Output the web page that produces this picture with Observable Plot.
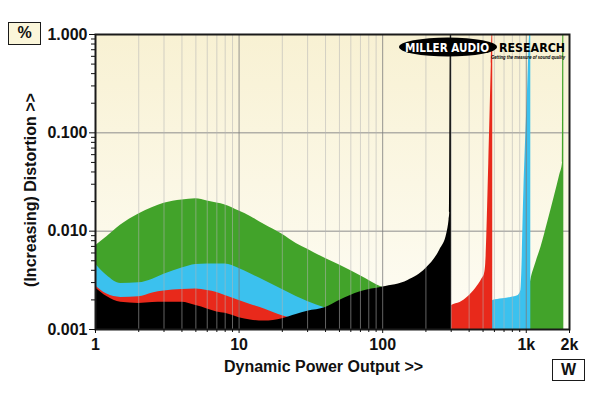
<!DOCTYPE html>
<html><head><meta charset="utf-8">
<script src="https://cdn.jsdelivr.net/npm/d3@7"></script>
<script src="https://cdn.jsdelivr.net/npm/@observablehq/plot@0.6"></script>
<style>
body{margin:0;background:#fff;}
#wrap{position:relative;width:600px;height:393px;overflow:hidden;font-family:"Liberation Sans",Arial,sans-serif;}
.box{position:absolute;border:1.5px solid #1a1a1a;font-weight:bold;font-size:16px;text-align:center;box-sizing:border-box;color:#111;}
#logo{position:absolute;left:0;top:0;pointer-events:none;}
</style></head><body>
<div id="wrap"></div>
<script>
// Axis settings / tick labels
const xDomain = [1, 2000];
const yDomain = [0.001, 1];
const xMajor = [1, 10, 100, 1000, 2000];
const xMajorLabels = ["1", "10", "100", "1k", "2k"];
const yMajor = [0.001, 0.01, 0.1, 1];
const yMajorLabels = ["0.001", "0.010", "0.100", "1.000"];
const xDecadeLines = [10, 100, 1000];
const yGridLines = [0.01, 0.1];

// Series (watts, % distortion)
const greenW   = [1,1.2,1.5,2,2.5,3,4,5,6,7,8,10,12,15,20,25,30,40,50,70,100,150,300,1000,1075,1168,1266,1413,1563,1710,1790,1796,1826];
const greenPct = [0.0071,0.0088,0.01155,0.01495,0.0174,0.0192,0.0208,0.0214,0.0203,0.0193,0.0185,0.016,0.0141,0.0117,0.0093,0.0075,0.00655,0.00526,0.00453,0.00352,0.00268,0.0024,0.0016,0.0016,0.00315,0.00481,0.00688,0.0125,0.022,0.0372,0.05,1.0,1.0];

const cyanW   = [1,1.2,1.5,2,2.5,3,4,5,6,7,8,10,12,15,20,25,30,40,50,570,584,684,781,879,918,961,1019,1060,1075];
const cyanPct = [0.00463,0.00354,0.00294,0.00298,0.00325,0.00364,0.00421,0.00458,0.00464,0.00464,0.00464,0.00417,0.00368,0.00315,0.00255,0.00217,0.00193,0.00165,0.0015,0.0015,0.00197,0.00205,0.00212,0.00222,0.0025,0.0242,0.251,1.0,1.0];

const redW   = [1,1.2,1.5,2,2.5,3,4,5,6,7,8,10,12,15,20,23,25,30,100,290,302,346,395,444,493,512,522,548,571,578,584];
const redPct = [0.00278,0.00229,0.00212,0.00215,0.00235,0.00246,0.00255,0.00258,0.00249,0.00238,0.00222,0.00197,0.0018,0.00162,0.00138,0.0013,0.00125,0.0012,0.0012,0.0012,0.00175,0.00188,0.00217,0.00261,0.0033,0.0037,0.0047,0.0488,0.5,1.0,1.0];

const blackW   = [1,1.2,1.5,2,2.5,3,4,5,6,7,8,10,12,15,20,25,30,40,50,70,100,150,200,250,280,290,293,296,302];
const blackPct = [0.00265,0.00217,0.00189,0.00184,0.00188,0.00189,0.00189,0.00175,0.00162,0.00151,0.00146,0.00132,0.00125,0.00122,0.00129,0.00142,0.00153,0.00167,0.00197,0.00242,0.0027,0.00315,0.00417,0.00643,0.0095,0.0131,0.0154,1.0,1.0];

const colors = {green: "#42a32a", cyan: "#3bc1ee", red: "#e8291b", black: "#000000"};

// minor ticks (log sub-divisions)
const xMinor = [];
for (const d of [1, 10, 100, 1000]) for (let k = 2; k <= 9; k++) if (d * k < 2000) xMinor.push(d * k);
const yMinor = [];
for (const d of [0.001, 0.01, 0.1]) for (let k = 2; k <= 9; k++) yMinor.push(+(d * k).toPrecision(3));

const area = (W, P, fill) => Plot.areaY(P, {x: W, y1: yDomain[0], y2: P, fill, curve: "monotone-x", clip: true});

const chart = Plot.plot({
  width: 600, height: 393,
  marginLeft: 95, marginRight: 31, marginTop: 34, marginBottom: 64,
  style: {fontFamily: "'Liberation Sans', Arial, sans-serif", fontSize: "16px", background: "#ffffff", color: "#111"},
  x: {type: "log", domain: xDomain},
  y: {type: "log", domain: yDomain},
  marks: [
    Plot.frame({fill: "url(#bgGrad)", stroke: null}),
    Plot.ruleY(yGridLines, {stroke: "#8c8c8c", strokeWidth: 1}),
    area(greenW, greenPct, colors.green),
    area(cyanW, cyanPct, colors.cyan),
    area(redW, redPct, colors.red),
    area(blackW, blackPct, colors.black),
    Plot.ruleX(xMinor, {stroke: "#b4b4b4", strokeOpacity: 0.55}),
    Plot.ruleX(xDecadeLines, {stroke: "#7a7a7a", strokeOpacity: 0.8}),
    Plot.frame({stroke: "#1a1a1a", strokeWidth: 2}),
    Plot.axisY(yMajor, {tickFormat: d => yMajorLabels[yMajor.indexOf(d)], tickSize: 6, tickPadding: 2, fontSize: 16, fontWeight: "bold", label: null}),
    Plot.axisY(yMinor, {text: null, tickSize: 4, label: null}),
    Plot.axisX(xMajor, {tickFormat: d => xMajorLabels[xMajor.indexOf(d)], tickSize: 4, tickPadding: 5, fontSize: 16, fontWeight: "bold", label: null}),
    Plot.axisX(xMinor, {text: null, tickSize: 3, label: null}),
    Plot.text(["Dynamic Power Output >>"], {frameAnchor: "bottom", dx: -9, dy: 37, fontSize: 16, fontWeight: "bold", lineAnchor: "middle", textAnchor: "middle"}),
    Plot.text(["(Increasing) Distortion >>"], {frameAnchor: "left", rotate: -90, dx: -65, dy: 8, fontSize: 16, fontWeight: "bold", lineAnchor: "middle", textAnchor: "middle"})
  ]
});

const ns = "http://www.w3.org/2000/svg";
const defs = document.createElementNS(ns, "defs");
defs.innerHTML = '<linearGradient id="bgGrad" x1="0" y1="0" x2="0" y2="1"><stop offset="0" stop-color="#f8f1d3"/><stop offset="1" stop-color="#fefdf5"/></linearGradient>';
chart.prepend(defs);

const wrap = document.getElementById("wrap");
wrap.appendChild(chart);

const pct = document.createElement("div");
pct.className = "box";
pct.style.cssText = "left:8px;top:22px;width:33px;height:23px;line-height:20px;background:#fbf6da;";
pct.textContent = "%";
wrap.appendChild(pct);

const wBox = document.createElement("div");
wBox.className = "box";
wBox.style.cssText = "left:552px;top:359px;width:33px;height:22px;line-height:19px;background:#fff;";
wBox.textContent = "W";
wrap.appendChild(wBox);

const logo = document.createElementNS(ns, "svg");
logo.setAttribute("id", "logo");
logo.setAttribute("width", "600");
logo.setAttribute("height", "393");
logo.innerHTML = `
  <ellipse cx="448" cy="47" rx="49" ry="9.5" fill="#000"/>
  <text x="405" y="51.5" fill="#fff" font-family="DejaVu Sans, sans-serif" font-weight="bold" font-size="12" textLength="84" lengthAdjust="spacingAndGlyphs">MILLER AUDIO</text>
  <text x="499" y="51.5" fill="#000" font-family="DejaVu Sans, sans-serif" font-weight="bold" font-size="12" textLength="66" lengthAdjust="spacingAndGlyphs">RESEARCH</text>
  <text x="491" y="58.5" fill="#000" font-family="Liberation Sans, sans-serif" font-weight="bold" font-style="italic" font-size="5" textLength="74" lengthAdjust="spacingAndGlyphs">Getting the measure of sound quality</text>`;
wrap.appendChild(logo);
</script>
</body></html>
